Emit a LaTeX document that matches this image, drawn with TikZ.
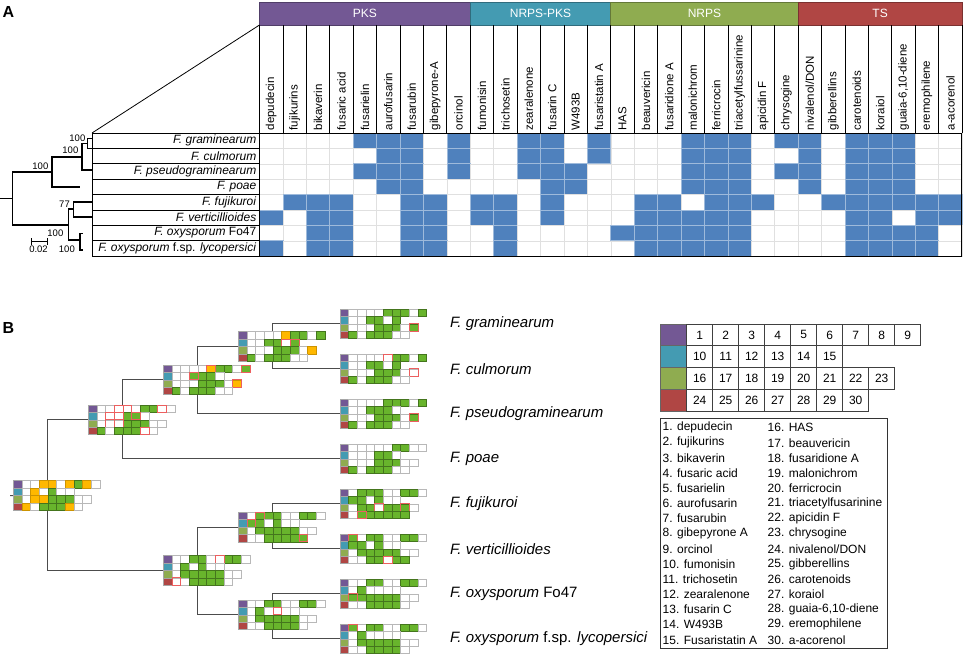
\documentclass[tikz,border=0pt]{standalone}
\usepackage{fontspec}
\setmainfont{Liberation Sans}
\usetikzlibrary{positioning}
\pgfdeclarelayer{background}
\pgfsetlayers{background,main}

\definecolor{pkscol}{RGB}{115,88,148}
\definecolor{npkcol}{RGB}{68,155,178}
\definecolor{nrpcol}{RGB}{143,172,80}
\definecolor{tscol}{RGB}{176,70,68}
\definecolor{hitblue}{RGB}{79,129,189}
\definecolor{bgreen}{RGB}{104,180,44}
\definecolor{borange}{RGB}{255,184,0}
\definecolor{bred}{RGB}{236,95,95}

\newcommand{\bcw}{8.67}
\newcommand{\bch}{7.4}
\newcommand{\clrow}[2]{%
  \foreach \v [count=\i] in {#2} {\path[cell\v] ({\i*\bcw},{#1*\bch}) rectangle ++(\bcw,\bch);}
  \foreach \v [count=\i] in {#2} {\path[top\v] ({\i*\bcw},{#1*\bch}) rectangle ++(\bcw,\bch);}}
\newcommand{\clmat}[6]{%
  \begin{scope}[shift={#2}]
    \coordinate (#1-w) at (0,{2*\bch});
    \coordinate (#1-j) at ({4*\bcw},{2*\bch});
    \path[keycell, fill=pkscol] (0,0) rectangle ++(\bcw,\bch);
    \path[keycell, fill=npkcol] (0,\bch) rectangle ++(\bcw,\bch);
    \path[keycell, fill=nrpcol] (0,{2*\bch}) rectangle ++(\bcw,\bch);
    \path[keycell, fill=tscol] (0,{3*\bch}) rectangle ++(\bcw,\bch);
    \clrow{0}{#3}\clrow{1}{#4}\clrow{2}{#5}\clrow{3}{#6}
  \end{scope}}

\begin{document}
\begin{tikzpicture}[x=1pt,y=-1pt]
	\tikzstyle{panel} = [font=\fontsize{16}{18}\selectfont\bfseries]
	\tikzstyle{grouptext} = [text=white, font=\fontsize{12}{14}\selectfont]
	\tikzstyle{collab} = [rotate=90, anchor=west, inner sep=1pt, font=\fontsize{11.5}{13}\selectfont]
	\tikzstyle{splab} = [anchor=east, inner sep=1pt, font=\fontsize{12}{14}\selectfont]
	\tikzstyle{boot} = [anchor=east, inner sep=0pt, font=\fontsize{9.5}{11}\selectfont]
	\tikzstyle{treeA} = [line width=1.6, line cap=rect]
	\tikzstyle{acell0} = [fill=white, draw=black!12, line width=.6]
	\tikzstyle{acell1} = [fill=hitblue, draw=hitblue!55!white, line width=.7]
	\tikzstyle{keycell} = [draw=black!35, line width=.6]
	\tikzstyle{cellw} = [fill=white, draw=black!28, line width=.6]
	\tikzstyle{cellg} = [fill=bgreen, draw=bgreen!65!black, line width=.6]
	\tikzstyle{cello} = [fill=borange, draw=borange!80!black, line width=.6]
	\tikzstyle{cellx} = [fill=white, draw=black!28, line width=.6]
	\tikzstyle{cellp} = [fill=bgreen, draw=bgreen!65!black, line width=.6]
	\tikzstyle{cellq} = [fill=borange, draw=borange!80!black, line width=.6]
	\tikzstyle{topw} = []
	\tikzstyle{topg} = []
	\tikzstyle{topo} = []
	\tikzstyle{topx} = [draw=bred, line width=.9]
	\tikzstyle{topp} = [draw=bred, line width=.9]
	\tikzstyle{topq} = [draw=bred, line width=.9]
	\tikzstyle{branch} = [draw=black!70, line width=1]
	\tikzstyle{blab} = [anchor=west, inner sep=0pt, font=\fontsize{15}{17}\selectfont]
	\tikzstyle{keynum} = [draw=black!75, line width=.8, fill=white, minimum width=26pt, minimum height=21.8pt, inner sep=0pt, font=\fontsize{12}{14}\selectfont]
	\tikzstyle{item} = [anchor=west, inner sep=0pt, font=\fontsize{12}{14}\selectfont]

	\useasboundingbox (0,0) rectangle (964,654);

	\node[panel] (pA) at (8.5,12) {A};
	\node[panel] (pB) at (8.5,328) {B};

	\foreach \a/\b/\t/\cl in {0/9/PKS/pkscol, 9/15/NRPS-PKS/npkcol, 15/23/NRPS/nrpcol, 23/30/TS/tscol} {
		\draw[fill=\cl, draw=\cl!70!black, line width=.8] ({259.5+\a*23.42},2) rectangle ({259.5+\b*23.42},25);
		\node[grouptext] (hd\a) at ({259.5+(\a+\b)*11.71},13.5) {\t};
	}

	\foreach \rw [count=\r] in {
		{0,0,0,0,1,1,1,0,1, 0,0,1,1,0,1, 0,0,0,1,1,1,0,1, 1,0,1,1,1,0,0},
		{0,0,0,0,0,1,1,0,1, 0,0,1,1,0,1, 0,0,0,1,1,1,0,0, 1,0,1,1,1,0,0},
		{0,0,0,0,1,1,1,0,1, 0,0,1,1,1,0, 0,0,0,1,1,1,0,1, 1,0,1,1,1,0,0},
		{0,0,0,0,0,1,1,0,0, 0,0,0,1,1,0, 0,0,0,1,1,1,0,0, 1,0,1,1,1,0,0},
		{0,1,1,1,0,0,1,1,0, 1,1,0,1,0,0, 0,1,1,0,1,1,1,0, 0,1,1,1,1,1,1},
		{1,0,1,1,0,0,1,1,0, 1,1,0,1,0,0, 0,1,1,1,1,1,0,0, 0,0,1,1,0,1,1},
		{0,0,1,1,0,0,1,1,0, 0,1,0,0,0,0, 1,1,1,1,1,1,0,0, 0,0,1,1,1,1,0},
		{1,0,1,1,0,0,1,1,0, 0,1,0,0,0,0, 0,1,1,1,1,1,0,0, 0,0,1,1,1,1,0}} {
		\foreach \v [count=\c] in \rw {
			\path[acell\v] ({259.5+(\c-1)*23.42},{133+(\r-1)*15.4}) rectangle ++(23.42,15.4);
		}
	}

	\foreach \c in {0,...,30}
		\draw[line width=.8] ({259.5+\c*23.42},25) -- ({259.5+\c*23.42},133);
	\foreach \nm [count=\c] in {depudecin,fujikurins,bikaverin,fusaric acid,fusarielin,aurofusarin,fusarubin,gibepyrone-A,orcinol,fumonisin,trichosetin,zearalenone,fusarin C,W493B,fusaristatin A,HAS,beauvericin,fusaridione A,malonichrom,ferricrocin,triacetylfussarinine,apicidin F,chrysogine,nivalenol/DON,gibberellins,carotenoids,koraiol,{guaia-6,10-diene},eremophilene,a-acorenol}
		\node[collab] (col\c) at ({259.5+(\c-0.5)*23.42},131.5) {\nm};
	\draw[line width=.9] (259.5,133) rectangle (961.9,256.2);

	\foreach \sp [count=\r] in {{\textit{F. graminearum}},{\textit{F. culmorum}},{\textit{F. pseudograminearum}},{\textit{F. poae}},{\textit{F. fujikuroi}},{\textit{F. verticillioides}},{\textit{F. oxysporum} Fo47},{\textit{F. oxysporum} f.sp. \textit{lycopersici}}} {
		\draw[line width=.8] (92,{133+(\r-1)*15.4}) rectangle (259.5,{133+\r*15.4});
		\node[splab] (sp\r) at (257.5,{133+(\r-0.5)*15.4}) {\sp};
	}
	\coordinate (boxtl) at (92,133);
	\coordinate (hdbl) at (259.5,25);
	\draw[line width=.8] (boxtl) -- (hdbl);

	\coordinate (aS) at (0,198.3);
	\coordinate (aR) at (12.3,198.3);
	\coordinate (aU) at (51.7,171.7);
	\coordinate (aL) at (68.3,225);
	\coordinate (aG3) at (81.7,156.7);
	\coordinate (aPo) at (79,186.7);
	\coordinate (aG2) at (87.3,143.3);
	\coordinate (aPs) at (91,170);
	\coordinate (aGr) at (92,138.3);
	\coordinate (aCu) at (92,148.3);
	\coordinate (aFV) at (73.3,209.2);
	\coordinate (aFu) at (92,201.7);
	\coordinate (aVe) at (92,216.7);
	\coordinate (aOX) at (80,240);
	\coordinate (aFo) at (82,233.3);
	\coordinate (aLy) at (82,250);
	\draw[treeA] (aS) -- (aR);
	\draw[treeA] (aR) |- (aU);
	\draw[treeA] (aR) |- (aL);
	\draw[treeA] (aU) |- (aG3);
	\draw[treeA] (aU) |- (aPo);
	\draw[treeA] (aG3) |- (aG2);
	\draw[treeA] (aG3) |- (aPs);
	\draw[treeA] (aG2) |- (aGr);
	\draw[treeA] (aG2) |- (aCu);
	\draw[treeA] (aL) |- (aFV);
	\draw[treeA] (aL) |- (aOX);
	\draw[treeA] (aFV) |- (aFu);
	\draw[treeA] (aFV) |- (aVe);
	\draw[treeA] (aOX) |- (aFo);
	\draw[treeA] (aOX) |- (aLy);

	\node[boot] (bs1) at (85.5,138.5) {100};
	\node[boot] (bs2) at (78.5,150) {100};
	\node[boot] (bs3) at (48.5,166.5) {100};
	\node[boot] (bs4) at (70,204.5) {77};
	\node[boot] (bs5) at (63.5,233.5) {100};
	\node[boot] (bs6) at (75,249.5) {100};
	\coordinate (sb1) at (30.7,241.7);
	\coordinate (sb2) at (47.3,241.7);
	\draw[|-|, line width=.8] (sb1) -- (sb2);
	\node[boot, anchor=center] (sbl) at (38.5,249.5) {0.02};

	\clmat{nR}{(13.3,480.7)}{w,w,o,o,w,o,g,o,w}{w,o,w,g,w,w}{w,o,o,g,g,g,w,w}{o,w,g,g,g,o,w}
	\clmat{nU}{(88.3,405)}{w,w,x,x,w,g,g,x,w}{w,x,x,g,p,w}{w,x,x,g,g,g,w,w}{g,w,g,g,g,x,w}
	\clmat{nG3}{(163.3,365)}{w,w,w,w,q,g,g,w,p}{w,w,p,g,g,w}{w,w,w,g,g,g,w,q}{g,w,g,g,g,w,w}
	\clmat{nG2}{(238.3,331.7)}{w,w,w,w,o,g,g,w,g}{w,w,g,g,x,p}{w,w,w,g,g,g,w,o}{g,w,g,g,g,w,w}
	\clmat{nL}{(163.3,555.7)}{w,w,g,g,w,x,g,g,w}{w,g,w,g,w,w}{w,g,g,g,g,g,w,w}{x,w,g,g,g,g,w}
	\clmat{nFV}{(238.3,512.3)}{w,p,g,g,w,w,g,g,w}{p,g,w,g,w,w}{w,g,g,g,g,g,w,w}{w,w,g,g,g,g,p}
	\clmat{nOX}{(238.3,600)}{w,w,g,g,w,w,g,g,w}{w,g,w,x,w,w}{w,g,g,g,g,g,w,w}{w,w,g,g,g,g,w}

	\clmat{lfgr}{(340,309)}{w,w,w,w,g,g,g,w,g}{w,w,g,g,w,g}{w,w,w,g,g,g,w,p}{g,w,g,g,g,w,w}
	\clmat{lfcu}{(340,354)}{w,w,w,w,x,g,g,w,g}{w,w,g,g,w,g}{w,w,w,g,g,g,w,x}{g,w,g,g,g,w,w}
	\clmat{lfps}{(340,399)}{w,w,w,w,g,g,g,w,g}{w,w,g,g,g,w}{w,w,w,g,g,g,w,p}{g,w,g,g,g,w,w}
	\clmat{lfpo}{(340,444)}{w,w,w,w,w,g,g,w,w}{w,w,w,g,g,w}{w,w,w,g,g,g,w,w}{g,w,g,g,g,w,w}
	\clmat{lffu}{(340,489)}{w,g,g,g,w,w,g,g,w}{g,g,w,g,w,w}{w,g,g,x,g,g,p,w}{w,p,g,g,g,g,g}
	\clmat{lfve}{(340,534)}{p,w,g,g,w,w,g,g,w}{g,g,w,g,w,w}{w,g,g,g,g,g,w,w}{w,w,g,g,x,g,g}
	\clmat{lffo}{(340,579)}{w,w,g,g,w,w,g,g,w}{w,g,w,w,w,w}{p,g,g,g,g,g,w,w}{w,w,g,g,g,g,w}
	\clmat{lfly}{(340,624)}{p,w,g,g,w,w,g,g,w}{w,g,w,w,w,w}{w,g,g,g,g,g,w,w}{w,w,g,g,g,g,w}

	\begin{pgfonlayer}{background}
		\coordinate (rstub) at (10,495.5);
		\draw[branch] (rstub) -- (nR-w);
		\draw[branch] (nR-j) |- (nU-w);
		\draw[branch] (nR-j) |- (nL-w);
		\draw[branch] (nU-j) |- (nG3-w);
		\draw[branch] (nU-j) |- (lfpo-w);
		\draw[branch] (nG3-j) |- (nG2-w);
		\draw[branch] (nG3-j) |- (lfps-w);
		\draw[branch] (nG2-j) |- (lfgr-w);
		\draw[branch] (nG2-j) |- (lfcu-w);
		\draw[branch] (nL-j) |- (nFV-w);
		\draw[branch] (nL-j) |- (nOX-w);
		\draw[branch] (nFV-j) |- (lffu-w);
		\draw[branch] (nFV-j) |- (lfve-w);
		\draw[branch] (nOX-j) |- (lffo-w);
		\draw[branch] (nOX-j) |- (lfly-w);
	\end{pgfonlayer}

	\node[blab, right=110pt of lfgr-w] (tgr) {\textit{F. graminearum}};
	\node[blab, right=110pt of lfcu-w] (tcu) {\textit{F. culmorum}};
	\node[blab, right=110pt of lfps-w] (tps) {\textit{F. pseudograminearum}};
	\node[blab, right=110pt of lfpo-w] (tpo) {\textit{F. poae}};
	\node[blab, right=110pt of lffu-w] (tfu) {\textit{F. fujikuroi}};
	\node[blab, right=110pt of lfve-w] (tve) {\textit{F. verticillioides}};
	\node[blab, right=110pt of lffo-w] (tfo) {\textit{F. oxysporum} Fo47};
	\node[blab, right=110pt of lfly-w] (tly) {\textit{F. oxysporum} f.sp. \textit{lycopersici}};

	\foreach \cl [count=\r from 0] in {pkscol,npkcol,nrpcol,tscol}
		\path[keycell, fill=\cl, draw=black!60, line width=.8] (660.7,{324+\r*21.8}) rectangle ++(26,21.8);
	\foreach \s/\n [count=\r from 0] in {1/9,10/6,16/8,24/7}
		\foreach \k in {1,...,\n} {
			\pgfmathtruncatemacro{\num}{\s+\k-1}
			\node[keynum] (key\num) at ({660.7+26*\k+13},{324+21.8*\r+10.9}) {\num};
		}

	\draw[line width=.9, draw=black!80] (660.7,418.3) rectangle (887.7,648.3);
	\foreach \t [count=\i] in {1. depudecin,2. fujikurins,3. bikaverin,4. fusaric acid,5. fusarielin,6. aurofusarin,7. fusarubin,8. gibepyrone A,9. orcinol,10. fumonisin,11. trichosetin,12. zearalenone,13. fusarin C,14. W493B,15. Fusaristatin A}
		\node[item] (it\i) at (662.5,{427.7+(\i-1)*15.16}) {\t};
	\foreach \t [count=\i from 16] in {16. HAS,17. beauvericin,18. fusaridione A,19. malonichrom,20. ferricrocin,21. triacetylfusarinine,22. apicidin F,23. chrysogine,24. nivalenol/DON,25. gibberellins,26. carotenoids,27. koraiol,{28. guaia-6,10-diene},29. eremophilene,30. a-acorenol}
		\node[item] (it\i) at (767.5,{427.7+(\i-16)*15.16}) {\t};
\end{tikzpicture}
\end{document}
